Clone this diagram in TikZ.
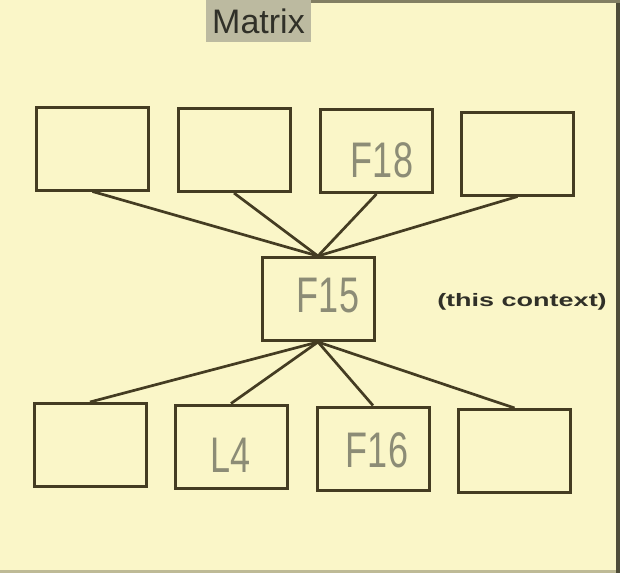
\documentclass[tikz,border=0pt]{standalone}
\usepackage{fontspec}
\setmainfont{Liberation Sans}
\definecolor{paper}{RGB}{250,246,200}
\definecolor{ink}{RGB}{68,60,34}
\definecolor{pencil}{RGB}{140,140,118}
\definecolor{hilite}{RGB}{188,186,160}
\definecolor{titletext}{RGB}{48,48,40}
\definecolor{edge}{RGB}{78,76,56}
\tikzset{
  box/.style={draw=ink, line width=3pt, minimum width=112pt, minimum height=83pt, inner sep=0pt},
  link/.style={draw=ink, line width=2.7pt},
  hand/.style={text=pencil, font=\fontsize{50}{50}\selectfont, inner sep=0pt},
}
\begin{document}
\begin{tikzpicture}[x=1pt,y=-1pt]
\fill[paper] (0,0) rectangle (620,573);
\useasboundingbox (0,0) rectangle (620,573);
% paper edges
\fill[edge] (616,0) rectangle (620,573);
\fill[edge!70!paper] (305,0) rectangle (620,3);
\fill[edge!35!paper] (0,570) rectangle (616,573);
% title
\node[fill=hilite, minimum width=105pt, minimum height=42pt, inner sep=0pt,
      text=titletext, font=\fontsize{34}{34}\selectfont] (title) at (258.5,21) {Matrix};
% top row
\node[box] (t1) at (92.5,148.5) {};
\node[box] (t2) at (234,150) {};
\node[box] (t3) at (376.5,151) {};
\node[box] (t4) at (517.5,153.5) {};
% centre
\node[box] (c) at (318,299) {};
% bottom row
\node[box] (b1) at (90,445) {};
\node[box] (b2) at (231,446.5) {};
\node[box] (b3) at (373,448.5) {};
\node[box] (b4) at (514.5,451) {};
% connectors
\foreach \n in {t1,t2,t3,t4} \draw[link] (\n.south) -- (c.north);
\foreach \n in {b1,b2,b3,b4} \draw[link] (c.south) -- (\n.north);
% handwritten labels
\node[hand] (l18) at (382,160) {\scalebox{0.72}[1]{F18}};
\node[hand] (l15) at (328,296) {\scalebox{0.72}[1]{F15}};
\node[hand] (l4) at (231,455) {\scalebox{0.72}[1]{L4}};
\node[hand] (l16) at (377,450) {\scalebox{0.72}[1]{F16}};
% side note
\node[text=titletext, font=\bfseries\fontsize{18}{18}\selectfont, inner sep=0pt] (ctx) at (522,302)
  {\scalebox{1.5}[1]{(this context)}};
\end{tikzpicture}
\end{document}
